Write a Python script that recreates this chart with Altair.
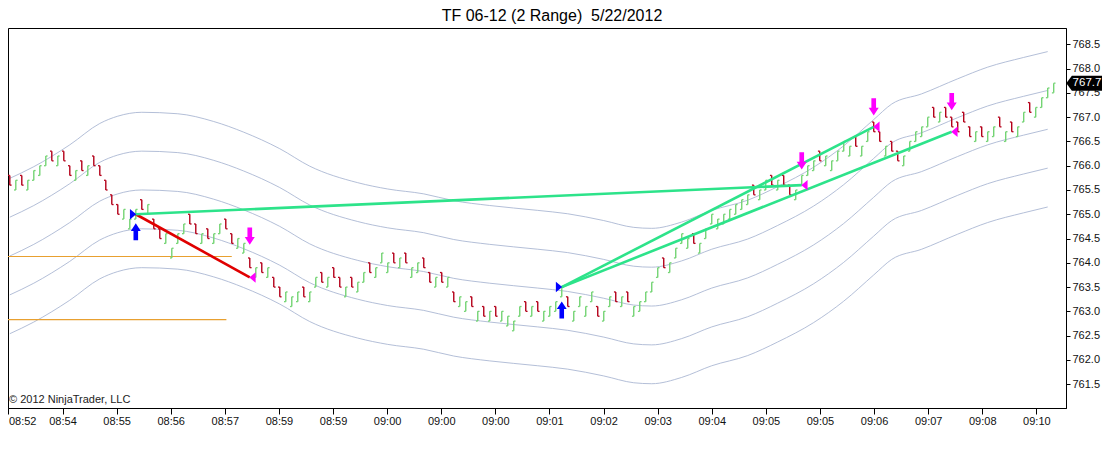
import altair as alt
import pandas as pd

# ---------------- data ----------------
bar_high = [
    765.8, 765.7, 765.8, 765.7, 765.9, 766.0, 766.2, 766.3, 766.2, 766.3,
    766.0, 765.9, 766.1, 766.0, 766.2, 766.0, 765.7, 765.4, 765.2, 765.1,
    764.9, 765.1, 765.3, 765.2, 764.9, 764.7, 764.6, 764.3, 764.6, 764.8,
    765.0, 764.8, 764.6, 764.7, 764.6, 764.8, 764.9, 764.6, 764.5, 764.4,
    764.1, 763.9, 764.0, 763.9, 763.7, 763.5, 763.4, 763.3, 763.4, 763.5,
    763.4, 763.7, 763.8, 763.7, 763.9, 763.7, 763.5, 763.7, 763.6, 763.8,
    764.0, 763.9, 764.2, 764.0, 764.2, 764.1, 764.2, 763.9, 764.0, 764.1,
    763.8, 763.7, 763.8, 763.7, 763.4, 763.3, 763.2, 763.3, 763.0, 763.1,
    763.0, 763.1, 763.0, 762.9, 762.8, 763.1, 763.2, 763.1, 763.2, 763.0,
    763.1, 763.2, 763.5, 763.3, 763.0, 763.3, 763.1, 763.4, 763.1, 763.0,
    763.3, 763.4, 763.3, 763.4, 763.1, 763.2, 763.4, 763.6, 763.9, 764.1,
    764.0, 764.3, 764.6, 764.5, 764.6, 764.4, 764.7, 765.0, 764.9, 765.0,
    765.1, 765.2, 765.3, 765.4, 765.6, 765.5, 765.7, 765.8, 765.7, 765.8,
    765.6, 765.5, 765.8, 766.0, 766.1, 766.3, 766.2, 766.1, 766.3, 766.5,
    766.4, 766.6, 766.4, 766.7, 766.9, 766.7, 766.4, 766.5, 766.3, 766.2,
    766.5, 766.7, 766.8, 767.0, 767.2, 767.1, 767.2, 767.0, 766.9, 767.1,
    766.8, 766.7, 766.8, 766.7, 766.8, 767.0, 766.7, 766.9, 766.8, 767.1,
    767.3, 767.2, 767.4, 767.6, 767.7,
]
bar_dir_groups = ("duduuuudud dududddddu uududduuuu dduduudduu dududduuud "
                  "uududduduu duuududuud dududuudud uduuuududu uuuduuuudu "
                  "ududuuuuud uuuuduuuuu uuuuduudud duuuuduuuu uduudduddu "
                  "uuuududddd duduududuu duuuu")
bar_dir = list("".join(bar_dir_groups.split()))
bar_range = 0.2

band_idx = [0, 4, 10, 15, 18, 22, 28, 34, 39, 45, 50, 58, 63, 69, 74, 80, 88,
            93, 99, 104, 107, 112, 117, 123, 128, 134, 139, 144, 147, 152,
            158, 163, 169, 173]
band_mid = [764.14, 764.38, 764.83, 765.27, 765.42, 765.50, 765.47, 765.31,
            765.09, 764.75, 764.39, 764.05, 763.92, 763.82, 763.68, 763.58,
            763.48, 763.41, 763.27, 763.13, 763.11, 763.24, 763.48, 763.69,
            763.97, 764.37, 764.81, 765.35, 765.67, 765.88, 766.19, 766.43,
            766.63, 766.75]
band_offsets = [-1.6, -0.8, 0.0, 0.8, 1.6]

hline_level = [764.13, 762.83]
hline_end = [37.0, 36.1]

entry_bar = [21, 92]
entry_price = [765.0, 763.5]
exit_bar = [40, 132, 144, 157]
exit_price = [763.7, 765.6, 766.8, 766.7]
exit_of_entry = [0, 0, 1, 1]
buy_arrow_price = [764.64, 763.03]
sell_arrow_price = [764.55, 766.10, 767.21, 767.32]

x_tick_labels = ["08:52", "08:54", "08:55", "08:56", "08:57", "08:59", "08:59",
                 "09:00", "09:00", "09:00", "09:01", "09:02", "09:03", "09:04",
                 "09:05", "09:05", "09:06", "09:07", "09:08", "09:10"]
y_ticks = [761.5 + 0.5 * k for k in range(15)]

title_text = "TF 06-12 (2 Range)\u00a0 5/22/2012"
copyright_text = "\u00a9 2012 NinjaTrader, LLC"

# ---------------- styling ----------------
UP, DOWN = "#74d474", "#b4001a"
WIN, LOSS = "#2de38a", "#e00000"
BAND = "#b4bfd8"
ORANGE = "#e8a030"
FONT = "Liberation Sans"
W, H = 1058, 380

TICK_STEP, TICK_OFF = 9.018, -0.23
x_tick_pos = [TICK_OFF + TICK_STEP * k for k in range(len(x_tick_labels))]
label_arr = "[" + ",".join("'%s'" % t for t in x_tick_labels) + "]"
label_expr = label_arr + "[round((datum.value - (%s)) / %s)]" % (TICK_OFF, TICK_STEP)

xs = alt.Scale(domain=[-0.3, 176.05], nice=False, zero=False)
ys = alt.Scale(domain=[761.01, 768.836], nice=False, zero=False)
xaxis = alt.Axis(values=x_tick_pos, labelExpr=label_expr, grid=False,
                 tickSize=6, tickColor="black", domainColor="black",
                 labelColor="#111", labelFont=FONT, labelFontSize=11,
                 labelPadding=1, labelFlush=True, labelOverlap=False,
                 labelBound=False, title=None)
yaxis = alt.Axis(orient="right", values=y_ticks, format=".1f", grid=False,
                 tickSize=4, tickColor="black", domainColor="black",
                 labelColor="#111", labelFont=FONT, labelFontSize=11,
                 labelPadding=2, labelOverlap=False, title=None)


def X(f):
    return alt.X(f, type="quantitative", scale=xs, axis=xaxis, title=None)


def Y(f):
    return alt.Y(f, type="quantitative", scale=ys, axis=yaxis, title=None)


# ---------------- tables ----------------
n = len(bar_high)
bars = pd.DataFrame({"i": list(range(n)), "high": bar_high, "dir": bar_dir[:n]})
bars["low"] = bars["high"] - bar_range
bars["open"] = bars.apply(lambda r: r["low"] if r["dir"] == "u" else r["high"], axis=1)
bars["close"] = bars.apply(lambda r: r["high"] if r["dir"] == "u" else r["low"], axis=1)
bars["col"] = bars["dir"].map({"u": UP, "d": DOWN})
bars["il"] = bars["i"] - 0.3
bars["ir"] = bars["i"] + 0.3

band_rows = []
for k, off in enumerate(band_offsets):
    for bi, m in zip(band_idx, band_mid):
        band_rows.append({"i": bi, "v": round(m + off, 3), "band": k})
bands = pd.DataFrame(band_rows)

hlines = pd.DataFrame({"x0": [-1.0] * len(hline_level), "x1": hline_end, "y": hline_level})

trades = pd.DataFrame({
    "x0": [entry_bar[e] for e in exit_of_entry],
    "y0": [entry_price[e] for e in exit_of_entry],
    "x1": exit_bar,
    "y1": exit_price,
})
trades["col"] = [WIN if b > a else LOSS for a, b in zip(trades["y0"], trades["y1"])]

entries = pd.DataFrame({"x": [b - 0.45 for b in entry_bar], "y": entry_price})
exits = pd.DataFrame({"x": [b + 0.45 for b in exit_bar], "y": exit_price})
buys = pd.DataFrame({"x": entry_bar, "y": buy_arrow_price})
sells = pd.DataFrame({"x": exit_bar, "y": sell_arrow_price})
last = bars.tail(1).copy()
last["lab"] = last["close"].map(lambda v: "%.1f" % v)

# ---------------- layers ----------------
band_layer = alt.Chart(bands).mark_line(
    color=BAND, strokeWidth=1, interpolate="monotone", clip=True
).encode(x=X("i"), y=Y("v"), detail="band:N")

hline_layer = alt.Chart(hlines).mark_rule(color=ORANGE, strokeWidth=1.2, clip=True).encode(
    x=X("x0"), x2="x1", y=Y("y"))

bar_body = alt.Chart(bars).mark_rule(strokeWidth=1.4, clip=True).encode(
    x=X("i"), y=Y("low"), y2="high", color=alt.Color("col:N", scale=None))
bar_open = alt.Chart(bars).mark_rule(strokeWidth=1.3, clip=True).encode(
    x=X("il"), x2="i", y=Y("open"), color=alt.Color("col:N", scale=None))
bar_close = alt.Chart(bars).mark_rule(strokeWidth=1.3, clip=True).encode(
    x=X("i"), x2="ir", y=Y("close"), color=alt.Color("col:N", scale=None))

trade_layer = alt.Chart(trades).mark_rule(strokeWidth=2.6, clip=True).encode(
    x=X("x0"), x2="x1", y=Y("y0"), y2="y1", color=alt.Color("col:N", scale=None))

UP_ARROW = "M0,-1L0.58,-0.1L0.27,-0.1L0.27,1L-0.27,1L-0.27,-0.1L-0.58,-0.1Z"
DOWN_ARROW = "M0,1L0.58,0.1L0.27,0.1L0.27,-1L-0.27,-1L-0.27,0.1L-0.58,0.1Z"

entry_layer = alt.Chart(entries).mark_point(
    shape="M-0.6,-1L0.6,0L-0.6,1Z", size=110, filled=True, color="#0000ff",
    opacity=1, strokeWidth=0, clip=True).encode(x=X("x"), y=Y("y"))
exit_layer = alt.Chart(exits).mark_point(
    shape="M0.6,-1L-0.6,0L0.6,1Z", size=110, filled=True, color="#ff00ff",
    opacity=1, strokeWidth=0, clip=True).encode(x=X("x"), y=Y("y"))
buy_layer = alt.Chart(buys).mark_point(
    shape=UP_ARROW, size=290, filled=True, color="#0000ff", opacity=1,
    strokeWidth=0, clip=True).encode(x=X("x"), y=Y("y"))
sell_layer = alt.Chart(sells).mark_point(
    shape=DOWN_ARROW, size=300, filled=True, color="#ff00ff", opacity=1,
    strokeWidth=0, clip=True).encode(x=X("x"), y=Y("y"))

price_box = alt.Chart(last).mark_point(
    shape="M-1,0L-0.7,-0.4L1,-0.4L1,0.4L-0.7,0.4Z", size=1400, filled=True,
    color="black", opacity=1, strokeWidth=0, clip=False
).encode(x=alt.value(W + 19), y=Y("close"))
price_text = alt.Chart(last).mark_text(
    color="white", font=FONT, fontSize=11.5, align="center", baseline="middle", clip=False
).encode(x=alt.value(W + 21), y=Y("close"), text="lab:N")

title_layer = alt.Chart(pd.DataFrame({"t": [title_text]})).mark_text(
    font=FONT, fontSize=16, color="black", align="center", baseline="alphabetic"
).encode(x=alt.value(544), y=alt.value(-7), text="t:N")
copy_layer = alt.Chart(pd.DataFrame({"t": [copyright_text]})).mark_text(
    font=FONT, fontSize=11, color="#222", align="left", baseline="alphabetic"
).encode(x=alt.value(1), y=alt.value(375), text="t:N")

chart = alt.layer(
    band_layer, hline_layer, bar_body, bar_open, bar_close, trade_layer,
    entry_layer, exit_layer, buy_layer, sell_layer, price_box, price_text,
    title_layer, copy_layer,
).properties(
    width=W, height=H,
    autosize=alt.AutoSizeParams(type="none"),
    padding={"left": 0, "top": 20, "right": 36, "bottom": 28},
    background="white",
).configure_view(stroke="black", strokeWidth=1)

chart.save("out.html", embed_options={"renderer": "svg", "actions": False})
